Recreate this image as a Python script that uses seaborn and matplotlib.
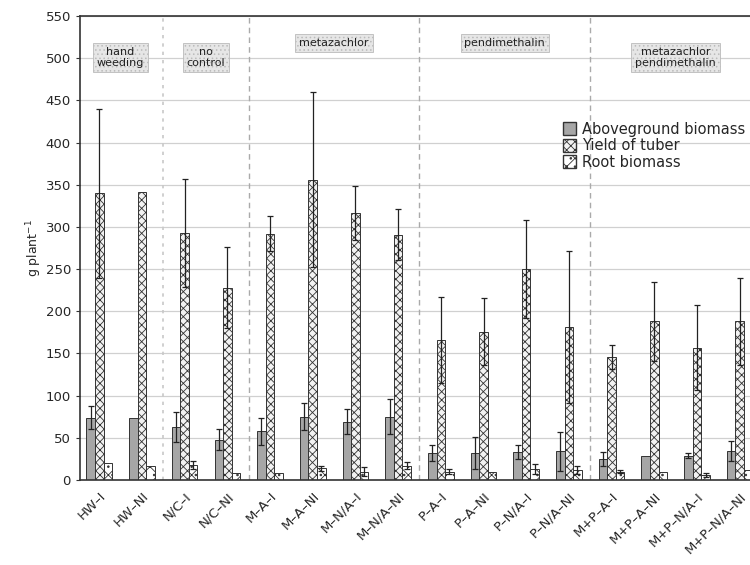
import numpy as np
import pandas as pd
import seaborn as sns
import matplotlib.pyplot as plt
from matplotlib.patches import Patch

treatments = ["HW–I", "HW–NI", "N/C–I", "N/C–NI",
              "M–A–I", "M–A–NI", "M–N/A–I", "M–N/A–NI",
              "P–A–I", "P–A–NI", "P–N/A–I", "P–N/A–NI",
              "M+P–A–I", "M+P–A–NI", "M+P–N/A–I", "M+P–N/A–NI"]

above = [74, 74, 63, 48, 58, 75, 69, 75, 32, 32, 33, 34, 25, 28, 29, 34]
above_err = [14, 0, 18, 12, 16, 16, 15, 21, 10, 19, 8, 23, 8, 0, 3, 12]
tuber = [340, 342, 293, 228, 292, 356, 316, 291, 166, 176, 250, 181, 146, 188, 157, 188]
tuber_err = [100, 0, 64, 48, 21, 104, 32, 30, 51, 40, 58, 90, 14, 47, 50, 52]
root = [20, 17, 18, 8, 8, 14, 10, 17, 10, 10, 13, 12, 10, 10, 6, 12]
root_err = [0, 0, 5, 0, 0, 3, 5, 4, 3, 0, 6, 5, 2, 0, 2, 0]

measures = ["Aboveground biomass", "Yield of tuber", "Root biomass"]
groups = [(0.5, 501, "hand\nweeding"), (2.5, 501, "no\ncontrol"),
          (5.5, 518, "metazachlor"), (9.5, 518, "pendimethalin"),
          (13.5, 501, "metazachlor\npendimethalin")]
dividers = [1.5, 3.5, 7.5, 11.5]

df = pd.DataFrame({
    "treatment": treatments * 3,
    "measure": np.repeat(measures, len(treatments)),
    "value": above + tuber + root,
    "err": above_err + tuber_err + root_err,
})

sns.set_style("whitegrid")
plt.rcParams["font.family"] = ["DejaVu Sans"]
plt.rcParams["hatch.linewidth"] = 0.6

fig = plt.figure(figsize=(7.5, 5.65), dpi=100)
ax = fig.add_axes([0.1067, 0.1504, 0.908, 0.8212])

sns.barplot(data=df, x="treatment", y="value", hue="measure", width=0.6,
            palette=["#a6a6a6", "white", "white"], edgecolor="#333333",
            linewidth=0.7, errorbar=None, legend=False, ax=ax)

styles = [("", "#a6a6a6"), ("xxxx", "#f2f2f2"), ("xx..", "white")]
for cont, (hatch, fc), m in zip(ax.containers, styles, measures):
    errs = df[df.measure == m]["err"].values
    for bar, e in zip(cont, errs):
        bar.set_hatch(hatch)
        bar.set_facecolor(fc)
        if e > 0:
            ax.errorbar(bar.get_x() + bar.get_width() / 2, bar.get_height(), yerr=e,
                        color="#222222", lw=0.9, capsize=2, capthick=0.9)

for i, d in enumerate(dividers):
    if i == 0:
        ax.axvline(d, color="#c8c8c8", ls=(0, (2, 3)), lw=1.2)
    else:
        ax.axvline(d, color="#aaaaaa", ls=(0, (4, 3)), lw=1)

for x, y, t in groups:
    ax.text(x, y, t, ha="center", va="center", fontsize=8, color="#222222",
            bbox=dict(boxstyle="square,pad=0.35", fc="#e6e6e6", ec="#bbbbbb",
                      hatch="....", lw=0.6))

ax.set_xlim(-0.45, 15.5)
ax.set_ylim(0, 550)
ax.set_yticks(range(0, 551, 50))
ax.grid(axis="x", visible=False)
ax.grid(axis="y", color="#d0d0d0", lw=0.9)
ax.set_axisbelow(True)
for s in ["left", "top", "bottom"]:
    ax.spines[s].set_color("#333333")
    ax.spines[s].set_linewidth(1.2)
ax.spines["right"].set_visible(False)

ax.set_xlabel("")
ax.set_ylabel("g plant$^{-1}$", fontsize=9, labelpad=1)
ax.tick_params(axis="y", labelsize=9.5, length=3, left=True, color="#333333")
ax.set_xticks(range(len(treatments)))
ax.set_xticklabels(treatments, rotation=45, ha="right", rotation_mode="anchor",
                   fontsize=9.5)

handles = [Patch(fc="#a6a6a6", ec="#333333", label=measures[0]),
           Patch(fc="#f2f2f2", ec="#333333", hatch="xxxx", label=measures[1]),
           Patch(fc="white", ec="#333333", hatch="xx..", label=measures[2])]
ax.legend(handles=handles, loc="upper left", bbox_to_anchor=(0.7, 0.785),
          frameon=False, fontsize=10.5, handlelength=0.9, handleheight=1.0,
          handletextpad=0.4, labelspacing=0.1, borderaxespad=0)

fig.savefig("out.png", dpi=100)
